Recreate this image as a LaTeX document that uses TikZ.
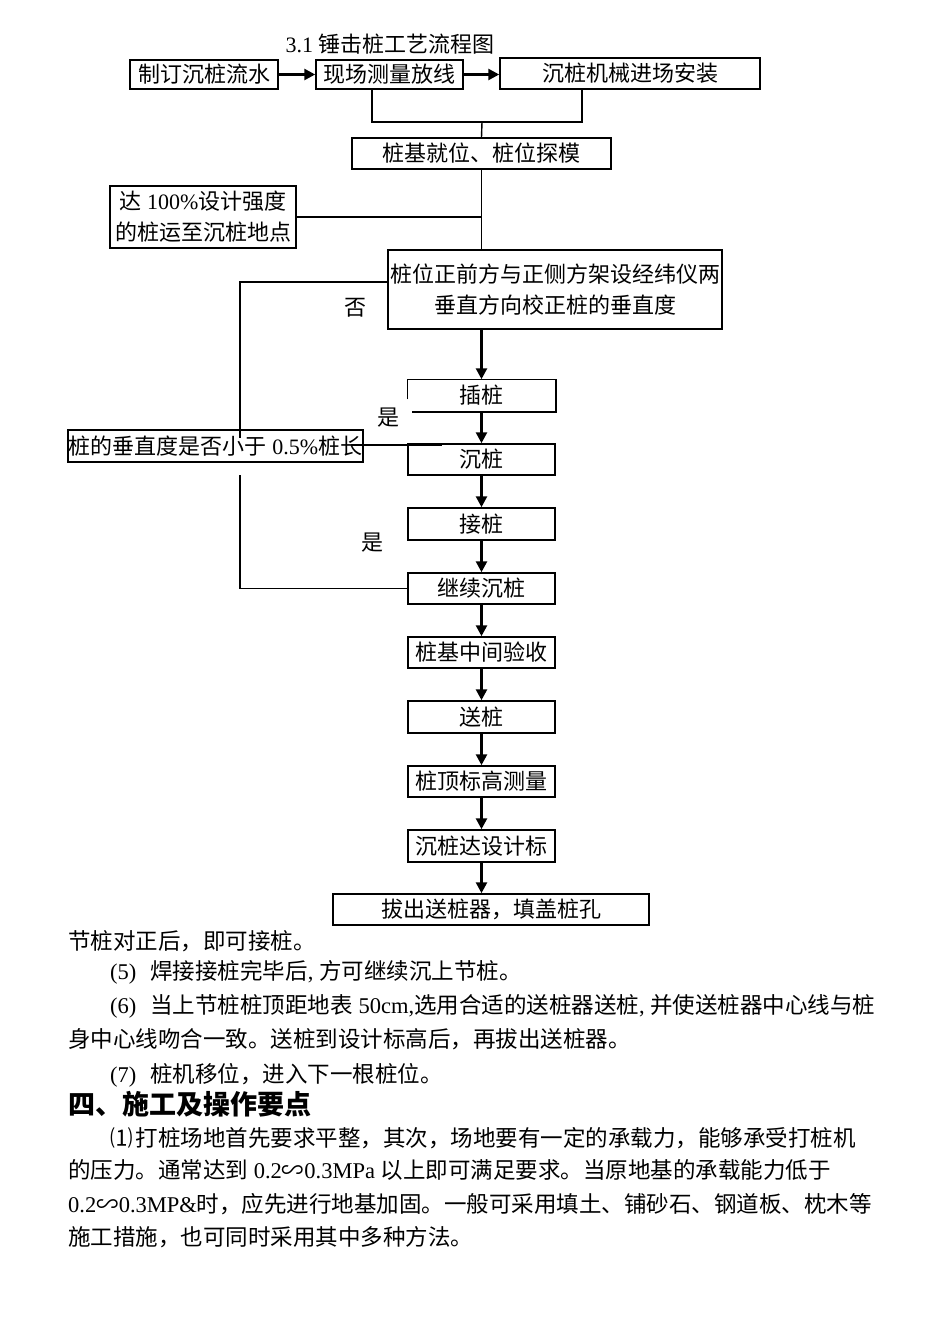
\documentclass[tikz,border=0pt]{standalone}
\usepackage{fontspec}
\setmainfont{Liberation Serif}
\newfontfamily\cjk{Noto Sans CJK SC}
\newcommand{\lat}[1]{{\rmfamily #1}}
\usetikzlibrary{arrows.meta,positioning,calc}

\begin{document}
\begin{tikzpicture}[x=1pt, y=-1pt,
    box/.style={rectangle, draw, line width=1.5pt, inner sep=0pt, font=\fontsize{22}{31}\selectfont\cjk, align=center},
    txt/.style={inner sep=0pt, font=\fontsize{22}{26}\selectfont\cjk},
    body/.style={anchor=base west, inner sep=0pt, font=\fontsize{22.5}{26}\selectfont\cjk},
    arrow/.style={-{Triangle[length=11pt,width=11pt]}, line width=2.6pt},
    link/.style={line width=1.4pt}
]
    \useasboundingbox (0,0) rectangle (950,1344);

    % title
    \node[txt] (title) at (390,44) {\lat{3.1 }锤击桩工艺流程图};

    % top row
    \node[box, minimum width=148, minimum height=29] (plan) at (204,74.5) {制订沉桩流水};
    \node[box, minimum width=147, minimum height=29] (survey) at (389.5,74.5) {现场测量放线};
    \node[box, minimum width=260, minimum height=31] (machine) at (630,73.5) {沉桩机械进场安装};
    \coordinate (join) at (482,122);

    % preparation
    \node[box, minimum width=259, minimum height=31] (locate) at (481.5,153.5) {桩基就位、桩位探模};
    \node[box, minimum width=186, minimum height=62] (deliver) at (203,217) {达\lat{ 100\%}设计强度\\的桩运至沉桩地点};
    \node[box, minimum width=334, minimum height=79] (align) at (555,289.5) {桩位正前方与正侧方架设经纬仪两\\垂直方向校正桩的垂直度};

    % check loop
    \node[box, minimum width=295, minimum height=32] (check) at (215.5,446) {桩的垂直度是否小于\lat{ 0.5\%}桩长};
    \coordinate (noTop) at (240,438);
    \coordinate (noBot) at (240,475);
    \coordinate (chk) at (442,445);
    \node[txt] (no) at (355,308) {否};
    \node[txt] (yes1) at (388,418) {是};
    \node[txt] (yes2) at (372,543) {是};

    % main column
    \node[box, draw=none, minimum width=147, minimum height=31] (insert) at (481.5,395.5) {插桩};
    \node[box, minimum width=147, minimum height=31] (sink) at (481.5,459.5) {沉桩};
    \node[box, minimum width=147, minimum height=32] (joint) at (481.5,524) {接桩};
    \node[box, minimum width=147, minimum height=31] (cont) at (481.5,588.5) {继续沉桩};
    \node[box, minimum width=147, minimum height=31] (accept) at (481.5,652.5) {桩基中间验收};
    \node[box, minimum width=147, minimum height=32] (send) at (481.5,717) {送桩};
    \node[box, minimum width=147, minimum height=31] (level) at (481.5,781.5) {桩顶标高测量};
    \node[box, minimum width=147, minimum height=32] (reach) at (481.5,846) {沉桩达设计标};
    \node[box, minimum width=316, minimum height=31] (pull) at (491,909.5) {拔出送桩器，填盖桩孔};

    % connectors
    \draw[arrow] (plan.east) -- (survey.west);
    \draw[arrow] (survey.east) -- (survey.east -| machine.west);
    \draw[link] ([xshift=-17.5]survey.south) |- (join) -| ([xshift=-48]machine.south);
    \draw[link] (join) -- (locate.north);
    \draw[link] (locate.south) -- (locate.south |- align.north);
    \draw[link] (deliver.east) -- (deliver.east -| locate.south);
    \draw[link] ([yshift=7.5]align.west) -| (noTop);
    \draw[link] (noBot) |- (cont.west);
    \draw[link] ([xshift=-13,yshift=1]check.east) -- (chk);
    \draw[box] ([yshift=-20]insert.north west) -- (insert.north west) -- (insert.north east)
        -- (insert.south east) -- ([xshift=5]insert.south west);
    \draw[arrow] (align.south -| insert.north) -- (insert.north);
    \foreach \a/\b in {insert/sink, sink/joint, joint/cont, cont/accept, accept/send, send/level, level/reach, reach/pull}
        \draw[arrow] (\a.south) -- (\a.south |- \b.north);

    % text below
    \node[body] (p1) at (68,949) {节桩对正后，即可接桩。};
    \node[body] (p2) at (110,979) {\lat{(5)}\hspace{14pt}焊接接桩完毕后\lat{, }方可继续沉上节桩。};
    \node[body] (p3) at (110,1013) {\lat{(6)}\hspace{14pt}当上节桩桩顶距地表\lat{ 50cm,}选用合适的送桩器送桩\lat{, }并使送桩器中心线与桩};
    \node[body] (p4) at (68,1047) {身中心线吻合一致。送桩到设计标高后，再拔出送桩器。};
    \node[body] (p5) at (110,1082) {\lat{(7)}\hspace{14pt}桩机移位，进入下一根桩位。};
    \node[body, font=\fontsize{27}{30}\selectfont\cjk\bfseries] (head) at (68,1114) {四、施工及操作要点};
    \node[body] (p6) at (110,1146) {⑴\hspace{3pt}打桩场地首先要求平整，其次，场地要有一定的承载力，能够承受打桩机};
    \node[body] (p7) at (68,1178) {的压力。通常达到\lat{ 0.2}∽\lat{0.3MPa }以上即可满足要求。当原地基的承载能力低于};
    \node[body] (p8) at (68,1212) {\lat{0.2}∽\lat{0.3MP\&}时，应先进行地基加固。一般可采用填土、铺砂石、钢道板、枕木等};
    \node[body] (p9) at (68,1245) {施工措施，也可同时采用其中多种方法。};
\end{tikzpicture}
\end{document}
